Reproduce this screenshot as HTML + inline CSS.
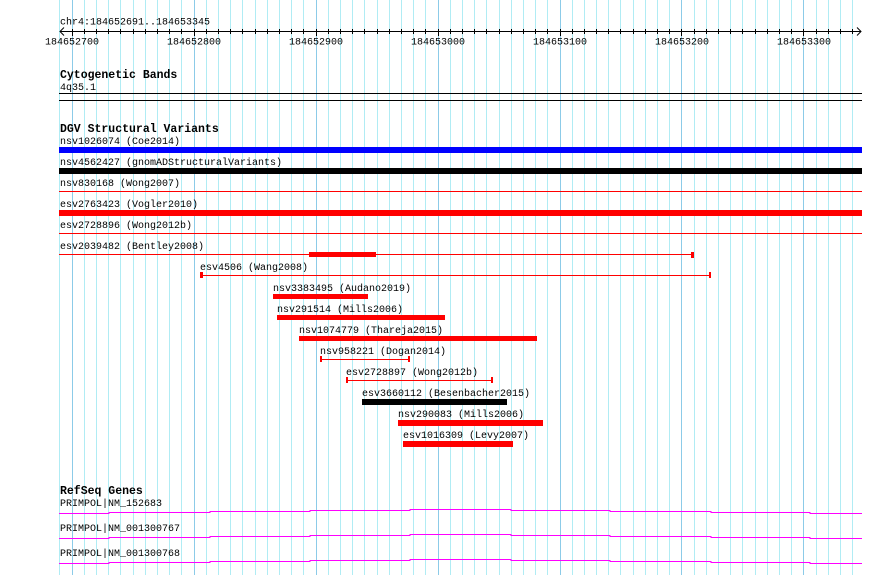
<!DOCTYPE html>
<html><head><meta charset="utf-8"><style>
html,body{margin:0;padding:0;background:#fff;}
svg{display:block;}
text{font-family:"Liberation Mono","DejaVu Sans Mono",monospace;font-size:10px;fill:#000;}
.b{font-weight:bold;font-size:11.5px;}
</style></head><body>
<svg id="s" width="890" height="575" viewBox="0 0 890 575" xmlns="http://www.w3.org/2000/svg">
<g id="grid"></g>
<g id="ticks" stroke="#000" stroke-width="1"></g>
<line x1="60" y1="31.5" x2="861" y2="31.5" stroke="#000"/>
<polyline points="64,27.5 60,31.5 64,35.5" fill="none" stroke="#000"/>
<polyline points="857,27.5 861,31.5 857,35.5" fill="none" stroke="#000"/>
<text x="60" y="24.5">chr4:184652691..184653345</text>
<text x="72" y="44.5" text-anchor="middle">184652700</text>
<text x="194" y="44.5" text-anchor="middle">184652800</text>
<text x="316" y="44.5" text-anchor="middle">184652900</text>
<text x="438" y="44.5" text-anchor="middle">184653000</text>
<text x="560" y="44.5" text-anchor="middle">184653100</text>
<text x="682" y="44.5" text-anchor="middle">184653200</text>
<text x="804" y="44.5" text-anchor="middle">184653300</text>

<text class="b" x="60" y="78">Cytogenetic Bands</text>
<text x="60" y="90">4q35.1</text>
<line x1="59" y1="93.5" x2="862" y2="93.5" stroke="#000"/>
<line x1="59" y1="100.5" x2="862" y2="100.5" stroke="#000"/>

<text class="b" x="60" y="132">DGV Structural Variants</text>
<text x="60" y="144">nsv1026074 (Coe2014)</text>
<rect x="59" y="147" width="803" height="6" fill="#0000ff"/>
<text x="60" y="165">nsv4562427 (gnomADStructuralVariants)</text>
<rect x="59" y="168" width="803" height="6" fill="#000"/>
<text x="60" y="186">nsv830168 (Wong2007)</text>
<rect x="59" y="191" width="803" height="1" fill="#f00"/>
<text x="60" y="207">esv2763423 (Vogler2010)</text>
<rect x="59" y="210" width="803" height="6" fill="#f00"/>
<text x="60" y="228">esv2728896 (Wong2012b)</text>
<rect x="59" y="233" width="803" height="1" fill="#f00"/>
<text x="60" y="249">esv2039482 (Bentley2008)</text>
<rect x="59" y="254" width="634" height="1" fill="#f00"/>
<rect x="309" y="252" width="67" height="5" fill="#f00"/>
<rect x="691" y="252" width="3" height="6" fill="#f00"/>
<text x="200" y="270">esv4506 (Wang2008)</text>
<rect x="200" y="275" width="511" height="1" fill="#f00"/>
<rect x="200" y="272" width="3" height="6" fill="#f00"/>
<rect x="709" y="272" width="2" height="6" fill="#f00"/>
<text x="273" y="291">nsv3383495 (Audano2019)</text>
<rect x="273" y="294" width="95" height="5" fill="#f00"/>
<text x="277" y="312">nsv291514 (Mills2006)</text>
<rect x="277" y="315" width="168" height="5" fill="#f00"/>
<text x="299" y="333">nsv1074779 (Thareja2015)</text>
<rect x="299" y="336" width="238" height="5" fill="#f00"/>
<text x="320" y="354">nsv958221 (Dogan2014)</text>
<rect x="320" y="359" width="89" height="1" fill="#f00"/>
<rect x="320" y="356" width="2" height="6" fill="#f00"/>
<rect x="408" y="356" width="2" height="6" fill="#f00"/>
<text x="346" y="375">esv2728897 (Wong2012b)</text>
<rect x="346" y="380" width="146" height="1" fill="#f00"/>
<rect x="346" y="377" width="2" height="6" fill="#f00"/>
<rect x="491" y="377" width="2" height="6" fill="#f00"/>
<text x="362" y="396">esv3660112 (Besenbacher2015)</text>
<rect x="362" y="399" width="145" height="6" fill="#000"/>
<text x="398" y="417">nsv290083 (Mills2006)</text>
<rect x="398" y="420" width="145" height="6" fill="#f00"/>
<text x="403" y="438">esv1016309 (Levy2007)</text>
<rect x="403" y="441" width="110" height="6" fill="#f00"/>

<text class="b" x="60" y="494">RefSeq Genes</text>
<text x="60" y="506">PRIMPOL|NM_152683</text>
<text x="60" y="531">PRIMPOL|NM_001300767</text>
<text x="60" y="556">PRIMPOL|NM_001300768</text>
<g id="genes" fill="none" stroke="#ff00ff" stroke-width="1"></g>
</svg>
<script>
var NS="http://www.w3.org/2000/svg";
var g=document.getElementById("grid"),t=document.getElementById("ticks");
for(var k=0;k<67;k++){var x=59.3+12.2*k;if(x>862)break;var xr=Math.round(x)+0.5;
var l=document.createElementNS(NS,"line");l.setAttribute("x1",xr);l.setAttribute("x2",xr);l.setAttribute("y1",0);l.setAttribute("y2",575);
l.setAttribute("stroke",(k%10==1)?"#8ccbe8":"#b0ecf4");g.appendChild(l);
if(k>=1&&x<858){var m=document.createElementNS(NS,"line");m.setAttribute("x1",xr);m.setAttribute("x2",xr);m.setAttribute("y1",29);m.setAttribute("y2",(k%10==1)?36:34);t.appendChild(m);}}
var xs=[59,109,210,310,410,511,610,711,810,862];
var gn=document.getElementById("genes");
[[513,512,511,510,509,510,511,512,513],[538,537,536,535,534,535,536,537,538],[563,562,561,560,559,560,561,562,563]].forEach(function(ys){
var p="";for(var i=0;i<9;i++){p+=(i?" L":"M")+xs[i]+","+(ys[i]+0.5)+" L"+xs[i+1]+","+(ys[i]+0.5);}
var e=document.createElementNS(NS,"path");e.setAttribute("d",p);gn.appendChild(e);});
</script>
</body></html>
